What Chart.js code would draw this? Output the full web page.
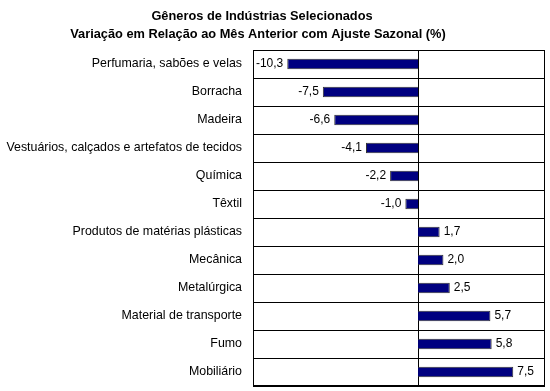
<!DOCTYPE html>
<html>
<head>
<meta charset="utf-8">
<script src="https://cdn.jsdelivr.net/npm/chart.js@4.4.0/dist/chart.umd.min.js"></script>
<style>
  html, body { margin: 0; padding: 0; background: #fff; }
  #wrap { width: 550px; height: 391px; }
</style>
</head>
<body>
<div id="wrap"><canvas id="chart" width="550" height="391"></canvas></div>
<script>
// Data
const categories = [
    'Perfumaria, sabões e velas',
    'Borracha',
    'Madeira',
    'Vestuários, calçados e artefatos de tecidos',
    'Química',
    'Têxtil',
    'Produtos de matérias plásticas',
    'Mecânica',
    'Metalúrgica',
    'Material de transporte',
    'Fumo',
    'Mobiliário'
];
const variation = [-10.3, -7.5, -6.6, -4.1, -2.2, -1.0, 1.7, 2.0, 2.5, 5.7, 5.8, 7.5];
const titleLines = [
    'Gêneros de Indústrias Selecionados',
    'Variação em Relação ao Mês Anterior com Ajuste Sazonal (%)'
];

const FONT = 'Arial, "Liberation Sans", sans-serif';
const fmt = v => v.toFixed(1).replace('.', ',');

// Two-line bold title, centred a bit left of the canvas middle
const titlePlugin = {
    id: 'twoLineTitle',
    afterDraw(chart) {
        const ctx = chart.ctx;
        ctx.save();
        ctx.fillStyle = '#000';
        ctx.font = 'bold 12.8px ' + FONT;
        ctx.textAlign = 'center';
        ctx.textBaseline = 'middle';
        ctx.fillText(titleLines[0], 262, 16);
        ctx.fillText(titleLines[1], 258, 34);
        ctx.restore();
    }
};

// Value labels next to the bar ends
const valueLabels = {
    id: 'valueLabels',
    afterDatasetsDraw(chart) {
        const ctx = chart.ctx;
        const meta = chart.getDatasetMeta(0);
        ctx.save();
        ctx.fillStyle = '#000';
        ctx.font = '12px ' + FONT;
        ctx.textBaseline = 'middle';
        meta.data.forEach((bar, i) => {
            const v = variation[i];
            if (v < 0) {
                ctx.textAlign = 'right';
                ctx.fillText(fmt(v), bar.x - 4, bar.y);
            } else {
                ctx.textAlign = 'left';
                ctx.fillText(fmt(v), bar.x + 4, bar.y);
            }
        });
        ctx.restore();
    }
};

// Plot area frame and the zero line
const frame = {
    id: 'frame',
    beforeDatasetsDraw(chart) {
        const a = chart.chartArea, ctx = chart.ctx;
        const x0 = Math.round(chart.scales.x.getPixelForValue(0)) + 0.5;
        ctx.save();
        ctx.strokeStyle = '#000';
        ctx.lineWidth = 1;
        ctx.beginPath();
        ctx.moveTo(x0, a.top);
        ctx.lineTo(x0, a.bottom);
        ctx.stroke();
        ctx.strokeRect(Math.round(a.left) + 0.5, Math.round(a.top) + 0.5,
            Math.round(a.right - a.left) - 1, Math.round(a.bottom - a.top) - 1);
        ctx.restore();
    }
};

new Chart(document.getElementById('chart'), {
    type: 'bar',
    data: {
        labels: categories,
        datasets: [{
            data: variation,
            backgroundColor: '#000080',
            borderColor: '#333333',
            borderWidth: 1,
            barPercentage: 0.37,
            categoryPercentage: 1
        }]
    },
    options: {
        responsive: false,
        animation: false,
        indexAxis: 'y',
        layout: { padding: { top: 50, right: 5, bottom: 5, left: 0 } },
        scales: {
            x: {
                display: false,
                min: -13, max: 10
            },
            y: {
                ticks: { color: '#000', font: { family: FONT, size: 12.4 }, padding: 11 },
                grid: { drawTicks: false, color: '#000' },
                border: { display: false },
                afterFit: s => {
                    s.width = 253;
                    s.paddingTop = 0;
                    s.paddingBottom = 0;
                }
            }
        },
        plugins: {
            legend: { display: false },
            tooltip: { enabled: false }
        }
    },
    plugins: [titlePlugin, valueLabels, frame]
});
</script>
</body>
</html>
